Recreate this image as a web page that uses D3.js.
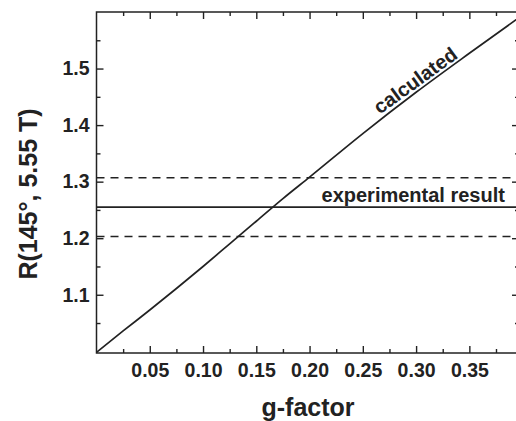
<!DOCTYPE html>
<html>
<head>
<meta charset="utf-8">
<script src="https://cdn.jsdelivr.net/npm/d3@7"></script>
<style>
  html, body { margin: 0; padding: 0; background: #fff; }
  svg { display: block; font-family: "Liberation Sans", Arial, Helvetica, sans-serif; }
  .tick text { font-weight: bold; font-size: 19.5px; fill: #222; }
</style>
</head>
<body>
<div id="chart"></div>
<script>
// R(145°, 5.55 T) versus g-factor

// calculated curve
const gFactor = [0, 0.025, 0.05, 0.075, 0.10, 0.125, 0.15, 0.175, 0.20, 0.25, 0.30, 0.35, 0.3966];
const ratio   = [0.998, 1.036, 1.073, 1.111, 1.150, 1.190, 1.230, 1.270, 1.308, 1.385, 1.458, 1.527, 1.590];

// experimental result with its error band
const expValue = 1.255;
const expLow = 1.203;
const expHigh = 1.307;

const xMajor = [0.05, 0.10, 0.15, 0.20, 0.25, 0.30, 0.35];
const xMinor = [0.025, 0.075, 0.125, 0.175, 0.225, 0.275, 0.325, 0.375];
const yMajor = [1.1, 1.2, 1.3, 1.4, 1.5];
const yMinor = [1.05, 1.15, 1.25, 1.35, 1.45, 1.55];

const W = 516, H = 421;
const m = {left: 96.5, right: 519, top: 12, bottom: 353};
const ink = '#222';

const svg = d3.select('#chart').append('svg')
	.attr('width', W)
	.attr('height', H);

const x = d3.scaleLinear().domain([0, 0.3966]).range([m.left, m.right]);
const y = d3.scaleLinear().domain([0.997, 1.6]).range([m.bottom, m.top]);

// reference lines
const refs = [
	{v: expHigh, dash: '8,6'},
	{v: expValue, dash: null},
	{v: expLow, dash: '8,6'}
];
svg.selectAll('.ref')
	.data(refs)
	.enter()
	.append('line')
	.attr('x1', m.left).attr('x2', m.right)
	.attr('y1', d => y(d.v)).attr('y2', d => y(d.v))
	.attr('stroke', ink)
	.attr('stroke-width', 1.6)
	.attr('stroke-dasharray', d => d.dash);

// calculated curve
const line = d3.line()
	.x((d, i) => x(gFactor[i]))
	.y(d => y(d))
	.curve(d3.curveMonotoneX);

svg.append('path')
	.datum(ratio)
	.attr('d', line)
	.attr('fill', 'none')
	.attr('stroke', ink)
	.attr('stroke-width', 1.7);

// axes: major + minor, ticks pointing inward
function strip(g) {
	g.select('.domain').remove();
	g.selectAll('.tick line').attr('stroke', ink).attr('stroke-width', 1.4);
}

svg.append('g')
	.attr('transform', `translate(0,${m.bottom})`)
	.call(d3.axisBottom(x).tickValues(xMajor).tickSizeInner(-7).tickSizeOuter(0)
		.tickPadding(10).tickFormat(d3.format('.2f')))
	.call(strip);
svg.append('g')
	.attr('transform', `translate(0,${m.bottom})`)
	.call(d3.axisBottom(x).tickValues(xMinor).tickSize(-4).tickFormat(''))
	.call(strip);

svg.append('g')
	.attr('transform', `translate(0,${m.top})`)
	.call(d3.axisTop(x).tickValues(xMajor).tickSize(-7).tickFormat(''))
	.call(strip);
svg.append('g')
	.attr('transform', `translate(0,${m.top})`)
	.call(d3.axisTop(x).tickValues(xMinor).tickSize(-4).tickFormat(''))
	.call(strip);

svg.append('g')
	.attr('transform', `translate(${m.left},0)`)
	.call(d3.axisLeft(y).tickValues(yMajor).tickSizeInner(-7).tickSizeOuter(0)
		.tickPadding(7).tickFormat(d3.format('.1f')))
	.call(strip);
svg.append('g')
	.attr('transform', `translate(${m.left},0)`)
	.call(d3.axisLeft(y).tickValues(yMinor).tickSize(-4).tickFormat(''))
	.call(strip);

svg.append('g')
	.attr('transform', `translate(${m.right},0)`)
	.call(d3.axisRight(y).tickValues(yMajor).tickSize(-7).tickFormat(''))
	.call(strip);
svg.append('g')
	.attr('transform', `translate(${m.right},0)`)
	.call(d3.axisRight(y).tickValues(yMinor).tickSize(-4).tickFormat(''))
	.call(strip);

// frame
svg.append('rect')
	.attr('x', m.left).attr('y', m.top)
	.attr('width', m.right - m.left).attr('height', m.bottom - m.top)
	.attr('fill', 'none')
	.attr('stroke', ink)
	.attr('stroke-width', 1.5);

// annotations
svg.append('text')
	.attr('transform', `translate(${x(0.303)},${y(1.469)}) rotate(-36)`)
	.attr('text-anchor', 'middle')
	.style('font-weight', 'bold')
	.style('font-size', '20px')
	.attr('fill', ink)
	.text('calculated');

svg.append('text')
	.attr('x', x(0.3834))
	.attr('y', y(expValue) - 5.5)
	.attr('text-anchor', 'end')
	.style('font-weight', 'bold')
	.style('font-size', '20px')
	.attr('fill', ink)
	.text('experimental result');

// axis titles
svg.append('text')
	.attr('x', 308)
	.attr('y', 416)
	.attr('text-anchor', 'middle')
	.style('font-weight', 'bold')
	.style('font-size', '25px')
	.attr('fill', ink)
	.text('g-factor');

svg.append('text')
	.attr('transform', 'translate(37,194) rotate(-90)')
	.attr('text-anchor', 'middle')
	.style('font-weight', 'bold')
	.style('font-size', '25px')
	.attr('fill', ink)
	.text('R(145°, 5.55 T)');
</script>
</body>
</html>
